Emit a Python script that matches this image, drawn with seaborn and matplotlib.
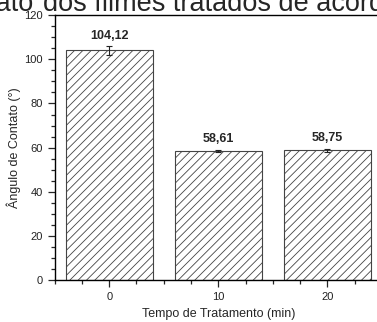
import numpy as np
import pandas as pd
import matplotlib
matplotlib.use('Agg')
import matplotlib.pyplot as plt
import seaborn as sns
from matplotlib.ticker import MultipleLocator

# Dados (ângulo de contato vs tempo de tratamento)
tempos = [0, 10, 20]
angulos = [104.12, 58.61, 58.75]
erros = [2.0, 0.5, 0.8]
rotulos = ['104,12', '58,61', '58,75']

sns.set_theme(style='ticks')
plt.rcParams['font.family'] = ['Liberation Sans', 'DejaVu Sans']
plt.rcParams['hatch.linewidth'] = 0.6

df = pd.DataFrame({'tempo': tempos, 'angulo': angulos})

fig = plt.figure(figsize=(3.77, 3.22), dpi=100)
ax = fig.add_axes([0.145, 0.130, 0.868, 0.823])

sns.barplot(data=df, x='tempo', y='angulo', native_scale=True, width=0.8,
            color='white', edgecolor='#444444', linewidth=0.8, ax=ax)
for p in ax.patches:
    p.set_hatch('////')
    p.set_facecolor('white')
    p.set_edgecolor('#444444')

ax.errorbar(tempos, angulos, yerr=erros, fmt='none', ecolor='#222222',
            elinewidth=0.8, capsize=2, capthick=0.8)

for t, a, e, r in zip(tempos, angulos, erros, rotulos):
    ax.annotate(r, (t, a + e), xytext=(0, 3), textcoords='offset points',
                ha='center', va='bottom', fontsize=9, fontweight='bold')

ax.set_xlim(-5, 25)
ax.set_ylim(0, 120)
ax.xaxis.set_major_locator(MultipleLocator(10))
ax.xaxis.set_minor_locator(MultipleLocator(2.5))
ax.yaxis.set_major_locator(MultipleLocator(20))
ax.yaxis.set_minor_locator(MultipleLocator(5))
ax.tick_params(which='major', length=5, width=0.9, labelsize=8,
               labelcolor='#222222', direction='out')
ax.tick_params(which='minor', length=3, width=0.9, direction='out')
ax.tick_params(top=False, right=False, which='both')
for s in ax.spines.values():
    s.set_linewidth(1.0)
    s.set_color('black')

ax.set_xlabel('Tempo de Tratamento (min)', fontsize=9, labelpad=4)
ax.set_ylabel('Ângulo de Contato (°)', fontsize=9, labelpad=2)

# título cortado na parte de cima
fig.text(33 / 377, 1 - 11 / 322, 'Ângulo de contato', ha='right',
         va='baseline', fontsize=19.5)
fig.text(43 / 377, 1 - 11 / 322, 'dos filmes tratados de acordo com o tempo',
         ha='left', va='baseline', fontsize=19.5)

fig.savefig('out.png', dpi=100)
